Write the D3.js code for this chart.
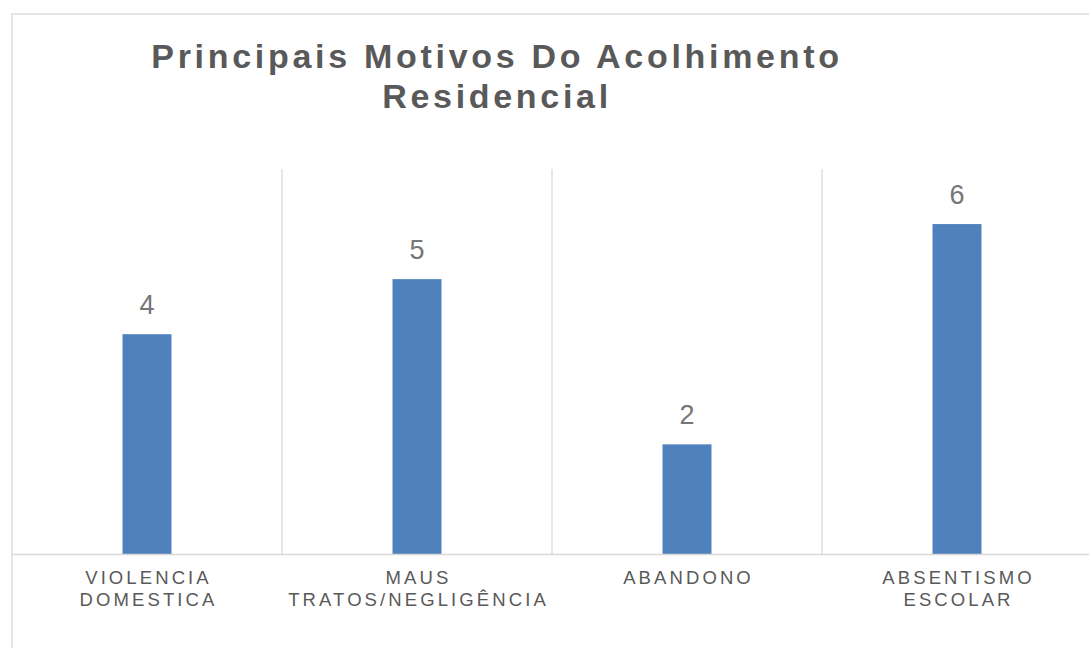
<!DOCTYPE html>
<html><head><meta charset="utf-8">
<script src="https://cdn.jsdelivr.net/npm/d3@7/dist/d3.min.js"></script>
<style>body{margin:0;background:#fff}svg{display:block}</style>
</head><body>
<script>
const categories = [["VIOLENCIA","DOMESTICA"],["MAUS","TRATOS/NEGLIGÊNCIA"],["ABANDONO"],["ABSENTISMO","ESCOLAR"]];
const values = [4,5,2,6];
const titleLines = ["Principais Motivos Do Acolhimento","Residencial"];

const W=1089,H=648;
const FONT="'Liberation Sans', Arial, sans-serif";
const svg=d3.select("body").append("svg").attr("width",W).attr("height",H);
svg.append("rect").attr("x",12).attr("y",14).attr("width",W).attr("height",H).attr("fill","#fff").attr("stroke","#d9d9d9").attr("stroke-width",1.3);

const ids=categories.map((c,i)=>i);
const x=d3.scaleBand().domain(ids).range([12,1092]).paddingInner(0).paddingOuter(0);
const y=d3.scaleLinear().domain([0,7]).range([554.5,169]);
const bw=49;

svg.append("g").selectAll("line").data(ids.slice(1)).join("line")
  .attr("x1",d=>x(d)).attr("x2",d=>x(d)).attr("y1",y(7)).attr("y2",y(0))
  .attr("stroke","#d9d9d9").attr("stroke-width",1.3);

svg.append("g").selectAll("rect").data(values).join("rect")
  .attr("x",(d,i)=>x(i)+x.bandwidth()/2-bw/2).attr("width",bw)
  .attr("y",d=>y(d)).attr("height",d=>y(0)-y(d)).attr("fill","#4f81bd");

svg.append("line").attr("x1",12).attr("x2",W).attr("y1",y(0)).attr("y2",y(0)).attr("stroke","#d9d9d9").attr("stroke-width",1.5);

svg.append("g").selectAll("text").data(values).join("text")
  .attr("x",(d,i)=>x(i)+x.bandwidth()/2).attr("y",d=>y(d)-20)
  .attr("text-anchor","middle").attr("font-family",FONT)
  .attr("font-size",27).attr("fill","#767676").text(d=>d);

const lab=svg.append("g").selectAll("text").data(categories).join("text")
  .attr("text-anchor","middle").attr("font-family",FONT)
  .attr("font-size",18.5).attr("letter-spacing","3.1px").attr("fill","#595959");
lab.each(function(c,i){
  d3.select(this).selectAll("tspan").data(c).join("tspan")
    .attr("x",x(i)+x.bandwidth()/2+1.5).attr("y",(d,j)=>584.3+j*22).text(d=>d);
});

svg.append("g").selectAll("text").data(titleLines).join("text")
  .attr("x",497).attr("y",(d,i)=>68+i*40).attr("text-anchor","middle")
  .attr("font-family",FONT).attr("font-weight","bold")
  .attr("font-size",34).attr("letter-spacing","3.7px").attr("fill","#595959").text(d=>d);
</script>
</body></html>
